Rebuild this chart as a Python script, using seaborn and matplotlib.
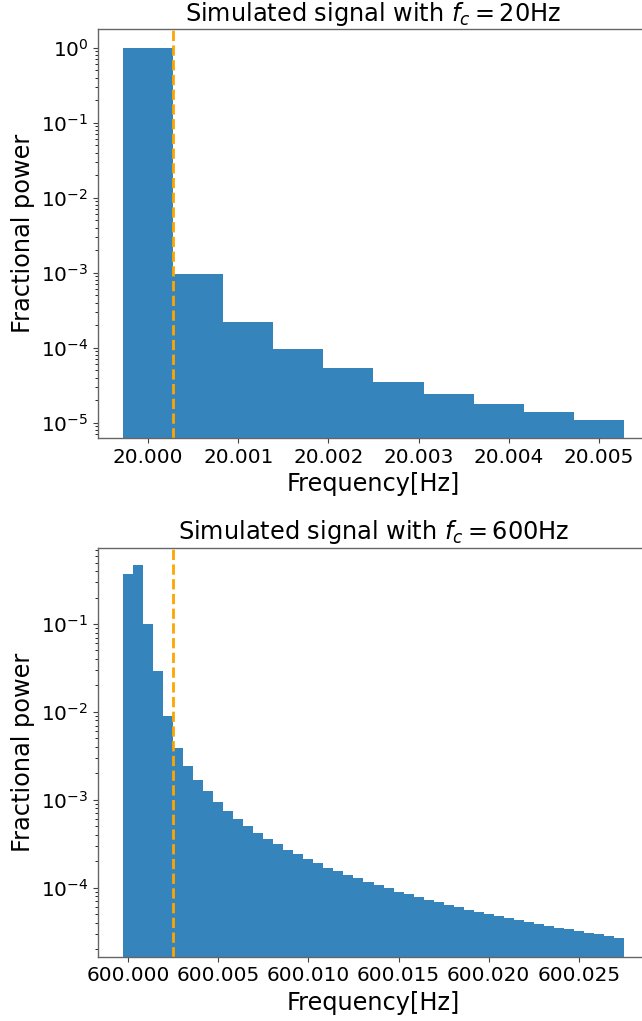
import matplotlib
matplotlib.use("Agg")
import matplotlib.pyplot as plt
from matplotlib.ticker import MultipleLocator, FormatStrFormatter
import seaborn as sns
import numpy as np
import pandas as pd

# frequency resolution (1/1800 s) and carrier frequencies
df_res = 1.0 / 1800.0
fc_low = 20.0
fc_high = 600.0

# fractional power per frequency bin
power_low = [1.0, 9.5e-4, 2.22e-4, 9.6e-5, 5.4e-5, 3.48e-5, 2.44e-5, 1.77e-5, 1.37e-5, 1.09e-5]

power_high = [0.366, 0.463, 0.099, 0.0290, 0.00887, 0.00385, 0.00243, 0.00169, 0.00125, 9.45e-4,
              7.48e-4, 6.07e-4, 5.05e-4, 4.20e-4, 3.62e-4, 3.14e-4, 2.70e-4, 2.39e-4, 2.13e-4, 1.89e-4,
              1.69e-4, 1.53e-4, 1.39e-4, 1.28e-4, 1.16e-4, 1.06e-4, 9.8e-5, 9.0e-5, 8.4e-5, 7.8e-5,
              7.3e-5, 6.8e-5, 6.35e-5, 5.98e-5, 5.63e-5, 5.34e-5, 5.03e-5, 4.77e-5, 4.49e-5, 4.26e-5,
              4.04e-5, 3.87e-5, 3.67e-5, 3.51e-5, 3.36e-5, 3.22e-5, 3.08e-5, 2.95e-5, 2.83e-5, 2.71e-5]

# cut-off line positions (half a bin above fc / above 4th bin)
cut_low = fc_low + 0.5 * df_res
cut_high = fc_high + 4.5 * df_res

W, H = 642, 1021
fig = plt.figure(figsize=(W / 100, H / 100), dpi=100)

label_fs = 17.3
tick_fs = 14.4


def draw_panel(ax, fc, power, cut, major, ylim, title):
    n = len(power)
    data = pd.DataFrame({"freq": fc + df_res * np.arange(n), "power": power})
    edges = [float(e) for e in fc - 0.5 * df_res + df_res * np.arange(n + 1)]
    sns.histplot(data=data, x="freq", weights="power", bins=edges, element="step", fill=True,
                 color="#1f77b4", alpha=0.9, linewidth=0, ax=ax)
    ax.set_yscale("log")
    ax.axvline(cut, color="orange", linestyle="--", linewidth=2)
    span = edges[-1] - edges[0]
    ax.set_xlim(edges[0] - 0.05 * span, edges[-1] + 0.05 * span)
    ax.set_ylim(*ylim)
    ax.xaxis.set_major_locator(MultipleLocator(major))
    ax.xaxis.set_major_formatter(FormatStrFormatter("%.3f"))
    ax.set_title(title, fontsize=label_fs)
    ax.set_xlabel("Frequency[Hz]", fontsize=label_fs)
    ax.set_ylabel("Fractional power", fontsize=label_fs)
    ax.tick_params(labelsize=tick_fs, color="0.25")
    for sp in ax.spines.values():
        sp.set_color("0.4")
        sp.set_linewidth(1.0)


ax1 = fig.add_axes([98 / W, 1 - 438 / H, 551 / W, 409 / H])
draw_panel(ax1, fc_low, power_low, cut_low, 0.001,
           (10 ** -5.204, 10 ** 0.249), r"Simulated signal with $f_c = 20$Hz")

ax2 = fig.add_axes([98 / W, 1 - 956.7 / H, 551 / W, 409 / H])
draw_panel(ax2, fc_high, power_high, cut_high, 0.005,
           (10 ** -4.785, 10 ** -0.132), r"Simulated signal with $f_c = 600$Hz")

fig.savefig("out.png", dpi=100)
